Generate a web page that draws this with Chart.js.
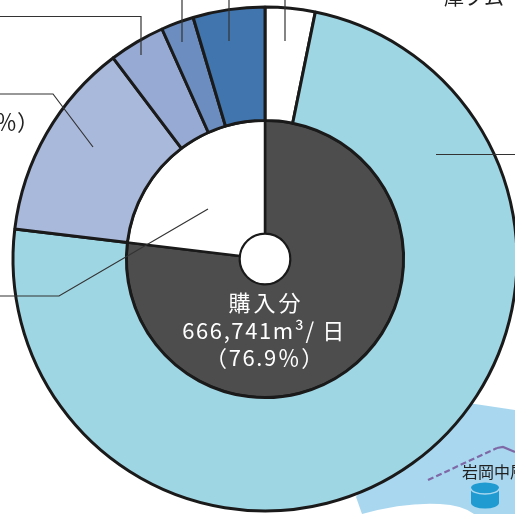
<!DOCTYPE html>
<html>
<head>
<meta charset="utf-8">
<style>
  html, body { margin: 0; padding: 0; background: #fff; width: 515px; height: 514px; overflow: hidden; }
  #wrap { position: absolute; left: 0; top: 0; width: 515px; height: 514px; overflow: hidden; }
  #c { position: absolute; left: 0; top: 0; }
</style>
</head>
<body>
<div id="wrap"><canvas id="c" width="530" height="520"></canvas></div>
<script src="https://cdn.jsdelivr.net/npm/chart.js@4"></script>
<script>
var outerLabels = ["other-a", "main", "b1", "b2", "b3", "b4"];
var outerValues = [3.2, 73.7, 12.8, 3.6, 2.1, 4.6];
var outerColors = ["#ffffff", "#9fd6e4", "#a9b9db", "#97aad3", "#6c8dbf", "#4175ae"];

var innerLabels = ["購入分", "other"];
var innerValues = [76.9, 23.1];
var innerColors = ["#4d4d4d", "#ffffff"];

var centerText = ["購入分", "666,741m³/ 日", "（76.9％）"];
var jpFont = '"Noto Sans CJK JP"';

// leader lines and the bit of map behind the chart
var background = {
  id: "background",
  beforeDatasetsDraw: function (chart) {
    var ctx = chart.ctx;
    ctx.save();
    ctx.fillStyle = "#a9d7ef";
    ctx.beginPath();
    ctx.moveTo(356, 497);
    ctx.lineTo(362, 514);
    ctx.quadraticCurveTo(405, 502, 440, 504);
    ctx.quadraticCurveTo(462, 505, 474, 514);
    ctx.lineTo(515, 514);
    ctx.lineTo(515, 410);
    ctx.lineTo(475, 404);
    ctx.lineTo(420, 400);
    ctx.closePath();
    ctx.fill();
    ctx.strokeStyle = "#7f68a6";
    ctx.lineWidth = 2.2;
    ctx.setLineDash([6, 3]);
    ctx.beginPath();
    ctx.moveTo(428, 480);
    ctx.lineTo(497, 448);
    ctx.stroke();
    ctx.setLineDash([]);
    ctx.beginPath();
    ctx.moveTo(497, 448);
    ctx.lineTo(503, 447);
    ctx.lineTo(515, 452);
    ctx.stroke();
    // tank
    ctx.fillStyle = "#1f9bd1";
    ctx.beginPath();
    ctx.ellipse(485, 503, 14, 5.5, 0, 0, Math.PI * 2);
    ctx.fill();
    ctx.fillRect(471, 488, 28, 15);
    ctx.beginPath();
    ctx.ellipse(485, 488, 14, 5.5, 0, 0, Math.PI * 2);
    ctx.fill();
    ctx.strokeStyle = "#a9d7ef";
    ctx.lineWidth = 1.5;
    ctx.beginPath();
    ctx.ellipse(485, 488.5, 14, 5.5, 0, 0, Math.PI);
    ctx.stroke();
    ctx.restore();
  },
  afterDatasetsDraw: function (chart) {
    var ctx = chart.ctx;
    var m = chart.getDatasetMeta(0).data[0];
    ctx.save();
    ctx.strokeStyle = "#333333";
    ctx.lineWidth = 1.2;
    var lines = [
      [[0, 16.5], [141, 16.5], [141, 55]],
      [[182, 0], [182, 42]],
      [[229, 0], [229, 41]],
      [[285, 0], [285, 41]],
      [[0, 94], [53, 94], [93, 147]],
      [[436, 154.5], [515, 154.5]],
      [[0, 296], [59, 296], [208, 209]]
    ];
    lines.forEach(function (l) {
      ctx.beginPath();
      l.forEach(function (p, i) {
        if (i == 0) ctx.moveTo(p[0], p[1]); else ctx.lineTo(p[0], p[1]);
      });
      ctx.stroke();
    });
    // hole
    ctx.fillStyle = "#fff";
    ctx.strokeStyle = "#1a1a1a";
    ctx.lineWidth = 1.5;
    ctx.beginPath();
    ctx.arc(m.x, m.y, 25, 0, Math.PI * 2);
    ctx.fill();
    ctx.stroke();
    // center label
    ctx.fillStyle = "#ffffff";
    ctx.textAlign = "center";
    ctx.textBaseline = "middle";
    ctx.font = "22px " + jpFont;
    ctx.letterSpacing = "3px";
    ctx.fillText(centerText[0], 266, 303);
    ctx.letterSpacing = "1.6px";
    ctx.fillText(centerText[1], 264, 331);
    ctx.fillText(centerText[2], 265, 358);
    ctx.letterSpacing = "0px";
    // cut off labels from the surrounding page
    ctx.fillStyle = "#222";
    ctx.textAlign = "left";
    ctx.font = "22px " + jpFont;
    ctx.fillText("％）", -5, 122);
    ctx.font = "20px " + jpFont;
    ctx.fillText("庫ブム", 444, -3);
    ctx.font = "16px " + jpFont;
    ctx.fillText("岩岡中層", 462, 472);
    ctx.restore();
  }
};

new Chart(document.getElementById("c"), {
  type: "doughnut",
  data: {
    labels: outerLabels,
    datasets: [
      { data: outerValues, backgroundColor: outerColors, borderColor: "#1a1a1a", borderWidth: 3 },
      { data: innerValues, backgroundColor: innerColors, borderColor: "#1a1a1a", borderWidth: 2.5 }
    ]
  },
  options: {
    responsive: false,
    animation: false,
    cutout: "10%",
    layout: { padding: { left: 11.5, right: 11.5, top: 5.5, bottom: 7.5 } },
    plugins: { legend: { display: false }, tooltip: { enabled: false } }
  },
  plugins: [background]
});
</script>
</body>
</html>
